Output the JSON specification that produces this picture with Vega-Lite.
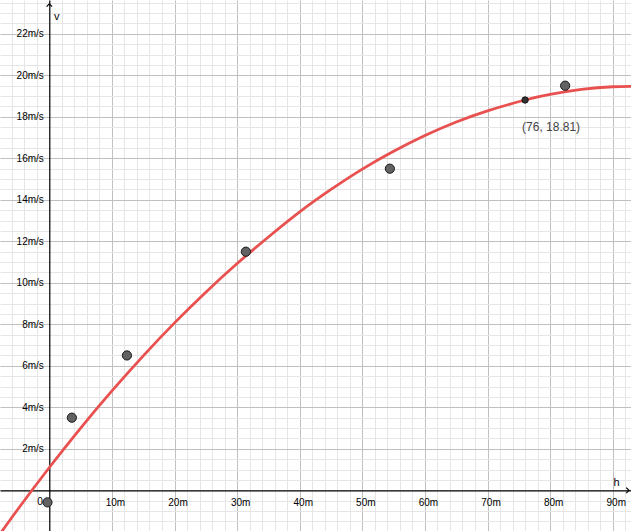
{
  "$schema": "https://vega.github.io/schema/vega-lite/v6.json",
  "width": 631,
  "height": 531,
  "padding": 0,
  "autosize": {"type": "none"},
  "background": "white",
  "config": {"view": {"stroke": null}, "font": "Liberation Sans"},
  "datasets": {
    "curve": [
      {"h": -10, "v": -3.0}, {"h": -5, "v": -0.9}, {"h": 0, "v": 1.1}, {"h": 5, "v": 3.0},
      {"h": 10, "v": 4.79}, {"h": 15, "v": 6.48}, {"h": 20, "v": 8.07}, {"h": 25, "v": 9.55},
      {"h": 30, "v": 10.93}, {"h": 35, "v": 12.21}, {"h": 40, "v": 13.42}, {"h": 45, "v": 14.5},
      {"h": 50, "v": 15.48}, {"h": 55, "v": 16.34}, {"h": 60, "v": 17.1}, {"h": 65, "v": 17.75},
      {"h": 70, "v": 18.29}, {"h": 76, "v": 18.81}, {"h": 80, "v": 19.08}, {"h": 85, "v": 19.32},
      {"h": 90, "v": 19.45}, {"h": 95, "v": 19.47}
    ],
    "points": [
      {"h": -0.3, "v": -0.58}, {"h": 3.6, "v": 3.5}, {"h": 12.4, "v": 6.5},
      {"h": 31.4, "v": 11.5}, {"h": 54.4, "v": 15.5}, {"h": 82.4, "v": 19.5}
    ],
    "marked": [{"h": 76, "v": 18.81, "label": "(76, 18.81)"}],
    "origin": [{"h": -1.5, "v": -0.56, "label": "0"}],
    "arrowsX": [{"h": 92.6, "v": 0}],
    "arrowsY": [{"h": 0, "v": 23.44}]
  },
  "layer": [
    {
      "data": {"name": "curve"},
      "mark": {"type": "line", "color": "#e8514f", "strokeWidth": 2.8, "interpolate": "natural", "clip": true},
      "encoding": {
        "x": {
          "field": "h", "type": "quantitative",
          "scale": {"domain": [-7.88, 92.92], "nice": false, "zero": false},
          "axis": {
            "orient": "bottom", "values": [-6,-4,-2,0,2,4,6,8,10,12,14,16,18,20,22,24,26,28,30,32,34,36,38,40,42,44,46,48,50,52,54,56,58,60,62,64,66,68,70,72,74,76,78,80,82,84,86,88,90,92],
            "grid": true, "gridColor": "#e6e6e6", "gridWidth": 1, "labels": false, "ticks": false, "domain": false, "title": null
          }
        },
        "y": {
          "field": "v", "type": "quantitative",
          "scale": {"domain": [-1.96, 23.63], "nice": false, "zero": false},
          "axis": {
            "orient": "left", "values": [-1.5,-1,-0.5,0,0.5,1,1.5,2,2.5,3,3.5,4,4.5,5,5.5,6,6.5,7,7.5,8,8.5,9,9.5,10,10.5,11,11.5,12,12.5,13,13.5,14,14.5,15,15.5,16,16.5,17,17.5,18,18.5,19,19.5,20,20.5,21,21.5,22,22.5,23,23.5],
            "grid": true, "gridColor": "#e6e6e6", "gridWidth": 1, "labels": false, "ticks": false, "domain": false, "title": null
          }
        }
      }
    },
    {
      "data": {"name": "points"},
      "mark": {"type": "point", "filled": true, "fill": "#626262", "stroke": "#1a1a1a", "strokeWidth": 1, "size": 85, "opacity": 1},
      "encoding": {
        "x": {
          "field": "h", "type": "quantitative",
          "axis": {
            "orient": "bottom", "offset": -40.7, "values": [10,20,30,40,50,60,70,80,90],
            "labelExpr": "datum.value + 'm'", "grid": true, "gridColor": "#c0c0c0", "gridWidth": 1,
            "ticks": false, "tickSize": 0, "domain": true, "domainColor": "#000000", "domainWidth": 1.2,
            "labelPadding": 7, "labelOffset": 3, "labelFontSize": 10, "labelColor": "#000000", "labelFont": "Liberation Sans",
            "title": "h", "titleFontWeight": "normal", "titleFontSize": 11, "titleColor": "#000000",
            "titleX": 616, "titleY": -8, "titleAlign": "center", "titleBaseline": "middle", "titleFont": "Liberation Sans"
          }
        },
        "y": {
          "field": "v", "type": "quantitative",
          "axis": {
            "orient": "left", "offset": -49.3, "values": [2,4,6,8,10,12,14,16,18,20,22],
            "labelExpr": "datum.value + 'm/s'", "grid": true, "gridColor": "#c0c0c0", "gridWidth": 1,
            "ticks": false, "tickSize": 0, "domain": true, "domainColor": "#000000", "domainWidth": 1.2,
            "labelPadding": 6, "labelFontSize": 10, "labelColor": "#000000", "labelFont": "Liberation Sans",
            "title": "v", "titleFontWeight": "normal", "titleFontSize": 11, "titleColor": "#000000", "titleAngle": 0,
            "titleX": 7, "titleY": 16.7, "titleAlign": "center", "titleBaseline": "middle", "titleFont": "Liberation Sans"
          }
        }
      }
    },
    {
      "data": {"name": "marked"},
      "mark": {"type": "point", "filled": true, "fill": "#333333", "stroke": "#111111", "strokeWidth": 1, "size": 40, "opacity": 1},
      "encoding": {
        "x": {"field": "h", "type": "quantitative", "axis": null},
        "y": {"field": "v", "type": "quantitative", "axis": null}
      }
    },
    {
      "data": {"name": "marked"},
      "mark": {"type": "text", "dx": 26, "dy": 27, "fontSize": 12, "color": "#444444", "font": "Liberation Sans", "align": "center", "baseline": "middle"},
      "encoding": {
        "x": {"field": "h", "type": "quantitative", "axis": null},
        "y": {"field": "v", "type": "quantitative", "axis": null},
        "text": {"field": "label"}
      }
    },
    {
      "data": {"name": "origin"},
      "mark": {"type": "text", "fontSize": 10, "color": "#000000", "font": "Liberation Sans", "align": "center", "baseline": "middle"},
      "encoding": {
        "x": {"field": "h", "type": "quantitative", "axis": null},
        "y": {"field": "v", "type": "quantitative", "axis": null},
        "text": {"field": "label"}
      }
    },
    {
      "data": {"name": "arrowsX"},
      "mark": {"type": "point", "shape": "M-1,-1L0,0L-1,1", "filled": false, "stroke": "#000000", "strokeWidth": 1.2, "size": 30, "opacity": 1},
      "encoding": {
        "x": {"field": "h", "type": "quantitative", "axis": null},
        "y": {"field": "v", "type": "quantitative", "axis": null}
      }
    },
    {
      "data": {"name": "arrowsY"},
      "mark": {"type": "point", "shape": "M-1,1L0,0L1,1", "filled": false, "stroke": "#000000", "strokeWidth": 1.2, "size": 30, "opacity": 1},
      "encoding": {
        "x": {"field": "h", "type": "quantitative", "axis": null},
        "y": {"field": "v", "type": "quantitative", "axis": null}
      }
    }
  ],
  "resolve": {"axis": {"x": "independent", "y": "independent"}}
}
